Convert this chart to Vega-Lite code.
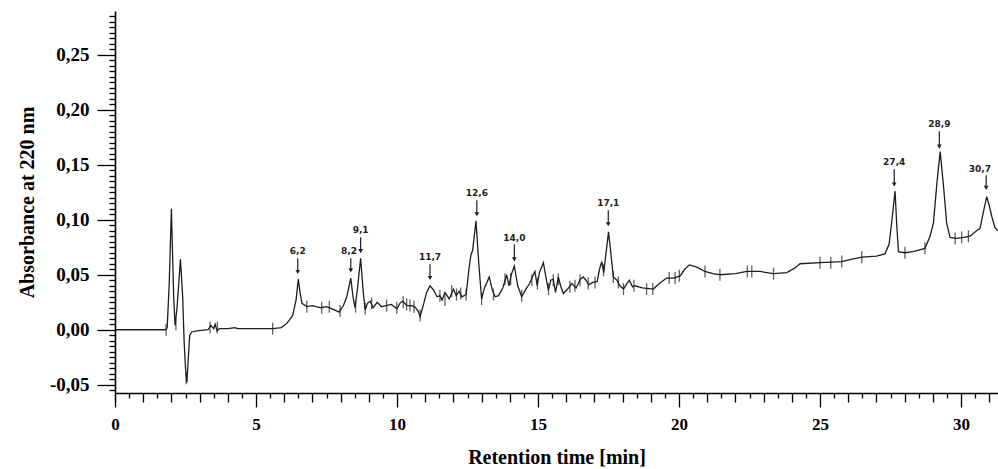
{
  "$schema": "https://vega.github.io/schema/vega-lite/v6.json",
  "width": 883,
  "height": 382,
  "autosize": "none",
  "padding": {"left": 115, "top": 11, "right": 0, "bottom": 76},
  "background": "white",
  "config": {
    "view": {"stroke": null},
    "axis": {
      "grid": false,
      "domainColor": "black",
      "domainWidth": 1.6,
      "tickColor": "black",
      "tickWidth": 1.3,
      "labelColor": "black",
      "labelFont": "Liberation Serif",
      "labelFontWeight": "bold",
      "titleColor": "black",
      "titleFont": "Liberation Serif",
      "titleFontWeight": "bold",
      "labelOverlap": false,
      "labelFlush": false,
      "tickCount": 1000
    }
  },
  "resolve": {"axis": {"x": "independent", "y": "independent"}},
  "datasets": {
    "trace": [
      {"t": 0, "v": 0}, {"t": 1.8, "v": 0}, {"t": 1.85, "v": 0.002}, {"t": 1.92, "v": 0.04}, {"t": 2.0, "v": 0.11},
      {"t": 2.08, "v": 0.03}, {"t": 2.13, "v": 0.004}, {"t": 2.2, "v": 0.02}, {"t": 2.32, "v": 0.064}, {"t": 2.4, "v": 0.03},
      {"t": 2.45, "v": -0.01}, {"t": 2.5, "v": -0.035}, {"t": 2.55, "v": -0.048}, {"t": 2.6, "v": -0.025}, {"t": 2.65, "v": -0.005},
      {"t": 2.72, "v": -0.002}, {"t": 2.9, "v": -0.001}, {"t": 3.3, "v": 0}, {"t": 3.4, "v": 0.004}, {"t": 3.5, "v": 0.001},
      {"t": 3.55, "v": 0.005}, {"t": 3.62, "v": -0.001}, {"t": 3.7, "v": 0.001}, {"t": 4.0, "v": 0.001}, {"t": 4.25, "v": 0.002},
      {"t": 4.35, "v": 0.001}, {"t": 5.0, "v": 0.001}, {"t": 5.6, "v": 0.001}, {"t": 5.9, "v": 0.002}, {"t": 6.1, "v": 0.006},
      {"t": 6.3, "v": 0.013}, {"t": 6.42, "v": 0.027}, {"t": 6.5, "v": 0.046}, {"t": 6.56, "v": 0.034}, {"t": 6.63, "v": 0.024},
      {"t": 6.8, "v": 0.021}, {"t": 7.0, "v": 0.022}, {"t": 7.3, "v": 0.02}, {"t": 7.5, "v": 0.021}, {"t": 7.7, "v": 0.019},
      {"t": 7.95, "v": 0.016}, {"t": 8.1, "v": 0.022}, {"t": 8.22, "v": 0.03}, {"t": 8.36, "v": 0.047}, {"t": 8.44, "v": 0.03},
      {"t": 8.51, "v": 0.02}, {"t": 8.6, "v": 0.038}, {"t": 8.71, "v": 0.065}, {"t": 8.8, "v": 0.035}, {"t": 8.87, "v": 0.018},
      {"t": 8.95, "v": 0.024}, {"t": 9.05, "v": 0.026}, {"t": 9.15, "v": 0.02}, {"t": 9.3, "v": 0.025}, {"t": 9.45, "v": 0.021},
      {"t": 9.6, "v": 0.022}, {"t": 9.8, "v": 0.023}, {"t": 10.0, "v": 0.019}, {"t": 10.1, "v": 0.024}, {"t": 10.2, "v": 0.026},
      {"t": 10.35, "v": 0.022}, {"t": 10.5, "v": 0.022}, {"t": 10.62, "v": 0.021}, {"t": 10.75, "v": 0.017}, {"t": 10.82, "v": 0.012},
      {"t": 10.95, "v": 0.024}, {"t": 11.05, "v": 0.034}, {"t": 11.17, "v": 0.04}, {"t": 11.3, "v": 0.036}, {"t": 11.42, "v": 0.03},
      {"t": 11.52, "v": 0.031}, {"t": 11.6, "v": 0.027}, {"t": 11.7, "v": 0.034}, {"t": 11.85, "v": 0.028}, {"t": 12.0, "v": 0.037},
      {"t": 12.1, "v": 0.031}, {"t": 12.2, "v": 0.035}, {"t": 12.3, "v": 0.03}, {"t": 12.45, "v": 0.032}, {"t": 12.55, "v": 0.055},
      {"t": 12.62, "v": 0.068}, {"t": 12.68, "v": 0.072}, {"t": 12.8, "v": 0.099}, {"t": 12.9, "v": 0.06}, {"t": 13.0, "v": 0.028},
      {"t": 13.1, "v": 0.038}, {"t": 13.27, "v": 0.048}, {"t": 13.38, "v": 0.036}, {"t": 13.48, "v": 0.03}, {"t": 13.6, "v": 0.031},
      {"t": 13.75, "v": 0.038}, {"t": 13.89, "v": 0.05}, {"t": 13.97, "v": 0.04}, {"t": 14.05, "v": 0.05}, {"t": 14.16, "v": 0.058},
      {"t": 14.28, "v": 0.04}, {"t": 14.42, "v": 0.03}, {"t": 14.55, "v": 0.036}, {"t": 14.7, "v": 0.042}, {"t": 14.8, "v": 0.048},
      {"t": 14.89, "v": 0.053}, {"t": 14.97, "v": 0.04}, {"t": 15.05, "v": 0.052}, {"t": 15.19, "v": 0.061}, {"t": 15.3, "v": 0.045},
      {"t": 15.37, "v": 0.036}, {"t": 15.45, "v": 0.045}, {"t": 15.54, "v": 0.046}, {"t": 15.62, "v": 0.034}, {"t": 15.72, "v": 0.048},
      {"t": 15.8, "v": 0.04}, {"t": 15.9, "v": 0.033}, {"t": 16.05, "v": 0.037}, {"t": 16.2, "v": 0.042}, {"t": 16.35, "v": 0.038},
      {"t": 16.5, "v": 0.046}, {"t": 16.6, "v": 0.048}, {"t": 16.7, "v": 0.045}, {"t": 16.8, "v": 0.041}, {"t": 16.95, "v": 0.043},
      {"t": 17.1, "v": 0.044}, {"t": 17.18, "v": 0.055}, {"t": 17.26, "v": 0.062}, {"t": 17.33, "v": 0.052}, {"t": 17.5, "v": 0.089},
      {"t": 17.58, "v": 0.07}, {"t": 17.67, "v": 0.048}, {"t": 17.8, "v": 0.045}, {"t": 17.9, "v": 0.04}, {"t": 18.03, "v": 0.037},
      {"t": 18.15, "v": 0.042}, {"t": 18.24, "v": 0.045}, {"t": 18.35, "v": 0.039}, {"t": 18.44, "v": 0.04}, {"t": 18.7, "v": 0.038},
      {"t": 19.09, "v": 0.037}, {"t": 19.3, "v": 0.042}, {"t": 19.56, "v": 0.047}, {"t": 19.8, "v": 0.047}, {"t": 20.04, "v": 0.049},
      {"t": 20.2, "v": 0.055}, {"t": 20.37, "v": 0.059}, {"t": 20.63, "v": 0.057}, {"t": 20.92, "v": 0.053}, {"t": 21.2, "v": 0.051},
      {"t": 21.45, "v": 0.05}, {"t": 22.0, "v": 0.051}, {"t": 22.4, "v": 0.053}, {"t": 22.87, "v": 0.053}, {"t": 23.35, "v": 0.051},
      {"t": 23.82, "v": 0.052}, {"t": 24.1, "v": 0.056}, {"t": 24.29, "v": 0.06}, {"t": 25.0, "v": 0.061}, {"t": 25.77, "v": 0.062},
      {"t": 26.1, "v": 0.064}, {"t": 26.48, "v": 0.066}, {"t": 27.0, "v": 0.067}, {"t": 27.3, "v": 0.069}, {"t": 27.45, "v": 0.078},
      {"t": 27.55, "v": 0.1}, {"t": 27.66, "v": 0.126}, {"t": 27.72, "v": 0.095}, {"t": 27.78, "v": 0.071}, {"t": 28.0, "v": 0.07},
      {"t": 28.3, "v": 0.071}, {"t": 28.72, "v": 0.074}, {"t": 28.9, "v": 0.085}, {"t": 29.02, "v": 0.097}, {"t": 29.15, "v": 0.135},
      {"t": 29.26, "v": 0.162}, {"t": 29.38, "v": 0.13}, {"t": 29.49, "v": 0.097}, {"t": 29.61, "v": 0.084}, {"t": 29.85, "v": 0.083},
      {"t": 30.1, "v": 0.084}, {"t": 30.32, "v": 0.085}, {"t": 30.55, "v": 0.09}, {"t": 30.67, "v": 0.092}, {"t": 30.8, "v": 0.108},
      {"t": 30.91, "v": 0.121}, {"t": 31.0, "v": 0.113}, {"t": 31.09, "v": 0.103}, {"t": 31.2, "v": 0.093}, {"t": 31.3, "v": 0.09}
    ],
    "markers": [
      {"t": 1.81, "v": 0.0}, {"t": 2.16, "v": 0.005}, {"t": 2.52, "v": -0.044}, {"t": 3.37, "v": 0.002}, {"t": 3.63, "v": 0.002},
      {"t": 5.59, "v": 0.001}, {"t": 6.8, "v": 0.021}, {"t": 7.33, "v": 0.02}, {"t": 7.6, "v": 0.021}, {"t": 7.98, "v": 0.017},
      {"t": 8.53, "v": 0.021}, {"t": 8.87, "v": 0.019}, {"t": 9.1, "v": 0.024}, {"t": 9.63, "v": 0.022}, {"t": 9.99, "v": 0.02},
      {"t": 10.22, "v": 0.025}, {"t": 10.34, "v": 0.023}, {"t": 10.46, "v": 0.022}, {"t": 10.6, "v": 0.021}, {"t": 10.82, "v": 0.013},
      {"t": 11.52, "v": 0.031}, {"t": 11.7, "v": 0.027}, {"t": 11.94, "v": 0.035}, {"t": 12.11, "v": 0.032}, {"t": 12.26, "v": 0.033},
      {"t": 12.45, "v": 0.032}, {"t": 13.0, "v": 0.028}, {"t": 13.42, "v": 0.032}, {"t": 13.83, "v": 0.046}, {"t": 14.03, "v": 0.046},
      {"t": 14.42, "v": 0.031}, {"t": 14.78, "v": 0.045}, {"t": 14.98, "v": 0.042}, {"t": 15.37, "v": 0.037}, {"t": 15.54, "v": 0.045},
      {"t": 15.72, "v": 0.046}, {"t": 16.13, "v": 0.039}, {"t": 16.31, "v": 0.04}, {"t": 16.49, "v": 0.045}, {"t": 16.78, "v": 0.042},
      {"t": 17.02, "v": 0.043}, {"t": 17.32, "v": 0.054}, {"t": 17.67, "v": 0.048}, {"t": 17.85, "v": 0.043}, {"t": 18.03, "v": 0.037},
      {"t": 18.4, "v": 0.04}, {"t": 18.85, "v": 0.037}, {"t": 19.07, "v": 0.037}, {"t": 19.65, "v": 0.047}, {"t": 19.86, "v": 0.047},
      {"t": 20.01, "v": 0.049}, {"t": 20.92, "v": 0.053}, {"t": 21.45, "v": 0.05}, {"t": 22.42, "v": 0.053}, {"t": 22.58, "v": 0.053},
      {"t": 23.35, "v": 0.051}, {"t": 25.0, "v": 0.061}, {"t": 25.38, "v": 0.061}, {"t": 25.77, "v": 0.062}, {"t": 26.48, "v": 0.066},
      {"t": 28.01, "v": 0.07}, {"t": 28.72, "v": 0.074}, {"t": 29.79, "v": 0.083}, {"t": 30.02, "v": 0.084}, {"t": 30.26, "v": 0.085}
    ],
    "ann": [
      {"t": 6.48, "tl": 6.48, "lab": "6,2", "ylab": 0.0714, "ytop": 0.065, "yhead": 0.0525},
      {"t": 8.36, "tl": 8.3, "lab": "8,2", "ylab": 0.0714, "ytop": 0.065, "yhead": 0.054},
      {"t": 8.71, "tl": 8.71, "lab": "9,1", "ylab": 0.0905, "ytop": 0.084, "yhead": 0.0715},
      {"t": 11.17, "tl": 11.17, "lab": "11,7", "ylab": 0.0659, "ytop": 0.0595, "yhead": 0.047},
      {"t": 12.83, "tl": 12.83, "lab": "12,6", "ylab": 0.1244, "ytop": 0.1177, "yhead": 0.105},
      {"t": 14.16, "tl": 14.16, "lab": "14,0", "ylab": 0.0838, "ytop": 0.0777, "yhead": 0.064},
      {"t": 17.49, "tl": 17.49, "lab": "17,1", "ylab": 0.1153, "ytop": 0.1086, "yhead": 0.096},
      {"t": 27.63, "tl": 27.63, "lab": "27,4", "ylab": 0.1523, "ytop": 0.1459, "yhead": 0.132},
      {"t": 29.23, "tl": 29.23, "lab": "28,9", "ylab": 0.1868, "ytop": 0.1805, "yhead": 0.1665},
      {"t": 30.89, "tl": 30.67, "lab": "30,7", "ylab": 0.1465, "ytop": 0.1405, "yhead": 0.129}
    ]
  },
  "layer": [
    {
      "data": {"name": "trace"},
      "mark": {"type": "line", "color": "#1e1e1e", "strokeWidth": 1.3, "clip": true},
      "encoding": {
        "x": {
          "field": "t", "type": "quantitative",
          "scale": {"domain": [0, 31.31], "nice": false, "zero": false},
          "axis": {
            "orient": "bottom",
            "title": "Retention time [min]",
            "titleFontSize": 20,
            "titlePadding": 15,
            "values": [0, 5, 10, 15, 20, 25, 30],
            "format": "d",
            "tickSize": 14,
            "labelFontSize": 17,
            "labelPadding": 9
          }
        },
        "y": {
          "field": "v", "type": "quantitative",
          "scale": {"domain": [-0.0575, 0.2898], "nice": false, "zero": false},
          "axis": {
            "orient": "left",
            "title": "Absorbance at 220 nm",
            "titleFontSize": 20,
            "titlePadding": 12,
            "values": [-0.05, 0, 0.05, 0.1, 0.15, 0.2, 0.25],
            "tickSize": 18,
            "labelExpr": "replace(replace(format(datum.value, '.2f'), '.', ','), '\u2212', '-')",
            "labelFontSize": 19,
            "labelPadding": 8
          }
        }
      }
    },
    {
      "data": {"name": "markers"},
      "mark": {"type": "tick", "orient": "vertical", "color": "#1e1e1e", "size": 12, "thickness": 1.3},
      "encoding": {
        "x": {
          "field": "t", "type": "quantitative",
          "axis": {
            "orient": "bottom", "title": null, "labels": false, "domain": false, "tickSize": 9,
            "values": [0,1,2,3,4,6,7,8,9,11,12,13,14,16,17,18,19,21,22,23,24,26,27,28,29,31]
          }
        },
        "y": {
          "field": "v", "type": "quantitative",
          "axis": {
            "orient": "left", "title": null, "labels": false, "domain": false, "tickSize": 6,
            "values": [-0.055,-0.045,-0.04,-0.035,-0.03,-0.025,-0.02,-0.015,-0.01,-0.005,0.005,0.01,0.015,0.02,0.025,0.03,0.035,0.04,0.045,0.055,0.06,0.065,0.07,0.075,0.08,0.085,0.09,0.095,0.105,0.11,0.115,0.12,0.125,0.13,0.135,0.14,0.145,0.155,0.16,0.165,0.17,0.175,0.18,0.185,0.19,0.195,0.205,0.21,0.215,0.22,0.225,0.23,0.235,0.24,0.245,0.255,0.26,0.265,0.27,0.275,0.28,0.285]
          }
        }
      }
    },
    {
      "data": {"name": "ann"},
      "mark": {"type": "rule", "color": "#1e1e1e", "strokeWidth": 1.2},
      "encoding": {
        "x": {
          "field": "t", "type": "quantitative",
          "axis": {
            "orient": "bottom", "title": null, "labels": false, "domain": false, "tickSize": 5,
            "values": [0.5,1.5,2.5,3.5,4.5,5.5,6.5,7.5,8.5,9.5,10.5,11.5,12.5,13.5,14.5,15.5,16.5,17.5,18.5,19.5,20.5,21.5,22.5,23.5,24.5,25.5,26.5,27.5,28.5,29.5,30.5]
          }
        },
        "y": {"field": "ytop", "type": "quantitative", "axis": null},
        "y2": {"field": "yhead"}
      }
    },
    {
      "data": {"name": "ann"},
      "mark": {"type": "point", "shape": "triangle-down", "filled": true, "color": "#1e1e1e", "size": 22, "opacity": 1},
      "encoding": {
        "x": {"field": "t", "type": "quantitative", "axis": null},
        "y": {"field": "yhead", "type": "quantitative", "axis": null}
      }
    },
    {
      "data": {"name": "ann"},
      "mark": {"type": "text", "font": "DejaVu Sans", "fontWeight": "bold", "fontSize": 9, "color": "#1e1e1e", "align": "center", "baseline": "middle"},
      "encoding": {
        "x": {"field": "tl", "type": "quantitative", "axis": null},
        "y": {"field": "ylab", "type": "quantitative", "axis": null},
        "text": {"field": "lab"}
      }
    }
  ]
}
